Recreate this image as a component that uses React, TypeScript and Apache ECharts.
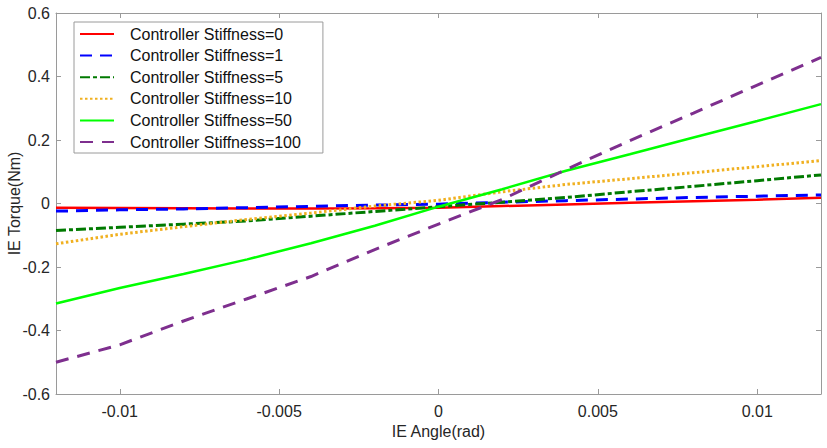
import React, { useEffect, useRef } from "react";
import * as echarts from "echarts";

const angles = [-0.012, -0.01, -0.008, -0.006, -0.004, -0.002, 0, 0.002, 0.004, 0.006, 0.008, 0.01, 0.012];
const stiffness0 = [-0.013, -0.014, -0.015, -0.016, -0.016, -0.015, -0.013, -0.008, -0.003, 0.002, 0.007, 0.012, 0.018];
const stiffness1 = [-0.024, -0.02, -0.017, -0.013, -0.009, -0.005, -0.002, 0.004, 0.009, 0.014, 0.019, 0.023, 0.027];
const stiffness5 = [-0.085, -0.075, -0.065, -0.055, -0.04, -0.025, -0.01, 0.004, 0.019, 0.037, 0.054, 0.072, 0.09];
const stiffness10 = [-0.127, -0.097, -0.073, -0.05, -0.03, -0.008, 0.01, 0.037, 0.06, 0.078, 0.097, 0.116, 0.135];
const stiffness50 = [-0.315, -0.266, -0.222, -0.176, -0.125, -0.07, -0.01, 0.045, 0.103, 0.155, 0.208, 0.26, 0.313];
const stiffness100 = [-0.5, -0.445, -0.37, -0.3, -0.23, -0.145, -0.065, 0.013, 0.107, 0.198, 0.285, 0.373, 0.46];

const seriesNames = [
  "Controller Stiffness=0",
  "Controller Stiffness=1",
  "Controller Stiffness=5",
  "Controller Stiffness=10",
  "Controller Stiffness=50",
  "Controller Stiffness=100",
];
const xTickValues = [-0.01, -0.005, 0, 0.005, 0.01];

const FONT = "'Liberation Sans', Arial, sans-serif";
const AXIS_GRAY = "#9a9a9a";
const TEXT = "#262626";

const styles: any[] = [
  { color: "#ff0000", type: "solid", width: 2.5 },
  { color: "#0000ff", type: [12, 8], width: 3 },
  { color: "#007a00", type: [10, 3, 4, 3], width: 3 },
  { color: "#f0b020", type: [2.5, 2.5], width: 3 },
  { color: "#00ff00", type: "solid", width: 2.5 },
  { color: "#7e2f8e", type: [13, 9], width: 3 },
];

export default function App() {
  const ref = useRef<HTMLDivElement>(null);
  useEffect(() => {
    if (!ref.current) return;
    const chart = echarts.init(ref.current, undefined, { renderer: "svg" });
    const all = [stiffness0, stiffness1, stiffness5, stiffness10, stiffness50, stiffness100];
    const axisLineCommon = { show: true, onZero: false, lineStyle: { color: AXIS_GRAY, width: 1 } };
    const tickCommon = { show: true, inside: true, length: 5, lineStyle: { color: AXIS_GRAY, width: 1 } };
    chart.setOption({
      animation: false,
      backgroundColor: "#ffffff",
      textStyle: { fontFamily: FONT },
      grid: { left: 56, right: 6, top: 13, bottom: 54, containLabel: false, outerBoundsMode: "none" },
      legend: {
        show: true,
        orient: "vertical",
        left: 74,
        top: 22,
        itemWidth: 34,
        itemHeight: 16,
        itemGap: 5.6,
        padding: [4, 22, 3, 5],
        backgroundColor: "#ffffff",
        borderColor: AXIS_GRAY,
        borderWidth: 1,
        borderRadius: 0,
        data: seriesNames,
        itemStyle: { color: "rgba(0,0,0,0)", borderWidth: 0, borderColor: "rgba(0,0,0,0)" },
        textStyle: { fontSize: 16, color: "#111", fontFamily: FONT, lineHeight: 16, padding: [0, 0, 0, 11] },
      },
      xAxis: [
        {
          type: "value",
          min: -0.012,
          max: 0.012,
          position: "bottom",
          name: "IE Angle(rad)",
          nameLocation: "middle",
          nameGap: 29,
          nameMoveOverlap: false,
          nameTextStyle: { fontSize: 16, color: TEXT, fontFamily: FONT },
          axisLine: axisLineCommon,
          axisTick: { ...tickCommon, customValues: xTickValues },
          axisLabel: { show: true, customValues: xTickValues, fontSize: 16, color: TEXT, margin: 9, fontFamily: FONT },
          splitLine: { show: false },
        },
        {
          type: "value",
          min: -0.012,
          max: 0.012,
          position: "top",
          axisLine: axisLineCommon,
          axisTick: { ...tickCommon, customValues: xTickValues },
          axisLabel: { show: false },
          splitLine: { show: false },
        },
      ],
      yAxis: [
        {
          type: "value",
          min: -0.6,
          max: 0.6,
          interval: 0.2,
          position: "left",
          name: "IE Torque(Nm)",
          nameLocation: "middle",
          nameGap: 34,
          nameMoveOverlap: false,
          nameRotate: 90,
          nameTextStyle: { fontSize: 16, color: TEXT, fontFamily: FONT },
          axisLine: axisLineCommon,
          axisTick: tickCommon,
          axisLabel: {
            show: true,
            fontSize: 16,
            color: TEXT,
            margin: 6,
            fontFamily: FONT,
            formatter: (v: number) => String(Math.round(v * 10) / 10),
          },
          splitLine: { show: false },
        },
        {
          type: "value",
          min: -0.6,
          max: 0.6,
          interval: 0.2,
          position: "right",
          axisLine: axisLineCommon,
          axisTick: tickCommon,
          axisLabel: { show: false },
          splitLine: { show: false },
        },
      ],
      series: seriesNames.map((name, i) => ({
        name,
        type: "line",
        xAxisIndex: 0,
        yAxisIndex: 0,
        symbol: "none",
        showSymbol: false,
        smooth: false,
        color: styles[i].color,
        lineStyle: { ...styles[i], cap: "butt" },
        itemStyle: { color: styles[i].color },
        data: angles.map((a, j) => [a, all[i][j]]),
        z: 2 + i,
      })),
    });
    return () => chart.dispose();
  }, []);
  return <div ref={ref} style={{ position: "fixed", left: 0, top: 0, width: 827, height: 448 }} />;
}
